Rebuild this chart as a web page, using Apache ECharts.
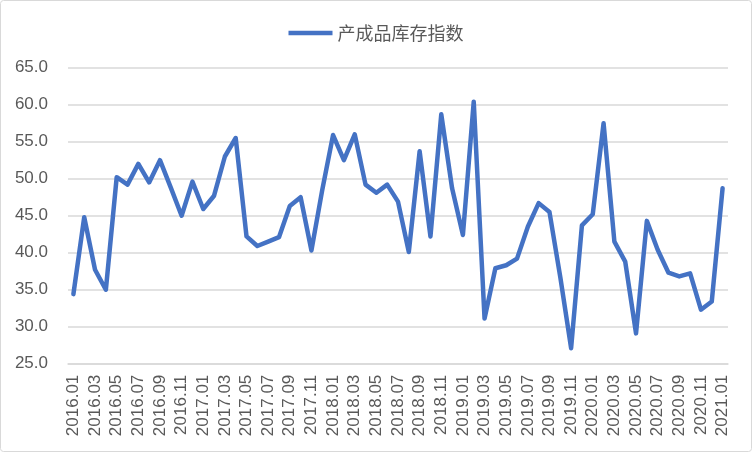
<!DOCTYPE html>
<html>
<head>
<meta charset="utf-8">
<script src="https://cdn.jsdelivr.net/npm/echarts@6/dist/echarts.min.js"></script>
<style>
html,body{margin:0;padding:0;background:#fff;}
#c{width:752px;height:452px;}
</style>
</head>
<body>
<div id="c"></div>
<script>
var seriesName = '产成品库存指数';
var months = [
 '2016.01','2016.02','2016.03','2016.04','2016.05','2016.06','2016.07','2016.08','2016.09','2016.10','2016.11','2016.12',
 '2017.01','2017.02','2017.03','2017.04','2017.05','2017.06','2017.07','2017.08','2017.09','2017.10','2017.11','2017.12',
 '2018.01','2018.02','2018.03','2018.04','2018.05','2018.06','2018.07','2018.08','2018.09','2018.10','2018.11','2018.12',
 '2019.01','2019.02','2019.03','2019.04','2019.05','2019.06','2019.07','2019.08','2019.09','2019.10','2019.11','2019.12',
 '2020.01','2020.02','2020.03','2020.04','2020.05','2020.06','2020.07','2020.08','2020.09','2020.10','2020.11','2020.12',
 '2021.01'
];
var values = [
 34.4, 44.8, 37.7, 35.0, 50.2, 49.2, 52.0, 49.5, 52.5, 48.8, 45.0, 49.6,
 45.9, 47.7, 53.0, 55.5, 42.2, 40.9, 41.5, 42.1, 46.3, 47.5, 40.3, 48.5,
 55.9, 52.5, 56.0, 49.2, 48.1, 49.2, 46.9, 40.1, 53.7, 42.2, 58.7, 48.7,
 42.4, 60.4, 31.1, 37.9, 38.3, 39.2, 43.5, 46.7, 45.5, 36.7, 27.1, 43.7,
 45.2, 57.5, 41.5, 38.8, 29.1, 44.3, 40.4, 37.3, 36.8, 37.2, 32.3, 33.4,
 48.7
];
var yMin = 25, yMax = 65, yStep = 5;

var chart = echarts.init(document.getElementById('c'));
chart.setOption({
  animation: false,
  backgroundColor: '#fff',
  graphic: [{
    type: 'rect',
    shape: {x: 0.5, y: 0.5, width: 751, height: 451, r: 3},
    style: {fill: 'none', stroke: '#d9d9d9', lineWidth: 1},
    silent: true
  }],
  legend: {
    top: 19,
    left: 'center',
    data: [{name: seriesName, icon: 'rect'}],
    itemWidth: 44,
    itemHeight: 4.5,
    textStyle: {fontSize: 18, color: '#595959', fontFamily: 'Noto Sans CJK SC'}
  },
  grid: {left: 68, right: 24, top: 67.7, bottom: 88.3, containLabel: false},
  xAxis: {
    type: 'category',
    data: months,
    boundaryGap: true,
    axisLine: {lineStyle: {color: '#d9d9d9', width: 1.5}},
    axisTick: {show: false},
    axisLabel: {
      rotate: 90,
      interval: 1,
      margin: 11,
      fontSize: 17,
      color: '#595959',
      fontFamily: 'Liberation Sans'
    }
  },
  yAxis: {
    type: 'value',
    min: yMin,
    max: yMax,
    interval: yStep,
    axisLine: {show: false},
    axisTick: {show: false},
    splitLine: {lineStyle: {color: '#d9d9d9', width: 1.5}},
    axisLabel: {
      margin: 20,
      fontSize: 17,
      color: '#595959',
      fontFamily: 'Liberation Sans',
      formatter: function (v) { return v.toFixed(1); }
    }
  },
  series: [{
    name: seriesName,
    type: 'line',
    data: values,
    symbol: 'none',
    color: '#4472C4',
    lineStyle: {width: 4.5, color: '#4472C4', join: 'round', cap: 'round'}
  }]
});
</script>
</body>
</html>
